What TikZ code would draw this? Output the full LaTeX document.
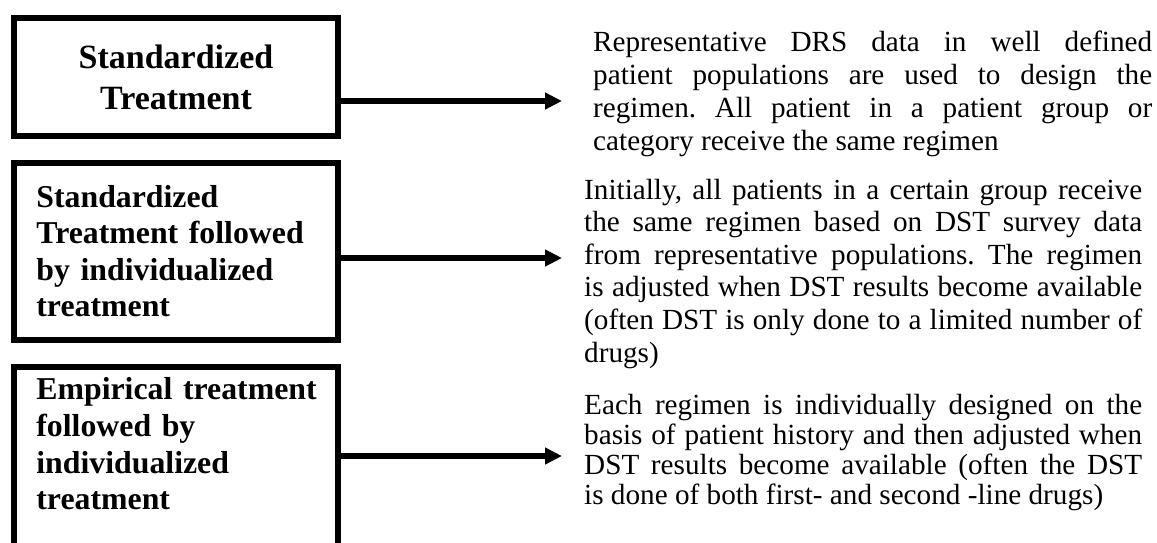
\documentclass[tikz,border=0pt]{standalone}
\usepackage{fontspec}
\setmainfont{Liberation Serif}
\usetikzlibrary{positioning}
\usetikzlibrary{arrows, arrows.meta}

\newcommand{\jline}[1]{\hbox to \hsize{\spaceskip=0pt\xspaceskip=0pt #1}\par}

\begin{document}
\begin{tikzpicture}[x=1pt, y=-1pt,
  kind/.style={draw, line width=5.7pt, outer sep=0pt, inner ysep=0pt,
    anchor=north west, inner xsep=22.55pt, text width=279.2pt, align=left,
    font=\bfseries\fontsize{31.8}{36.6}\selectfont},
  note/.style={inner sep=0pt, anchor=base west, align=justify, text width=558pt,
    font=\fontsize{29.2}{32.6}\selectfont\frenchspacing},
  flow/.style={line width=5.7pt, -{Triangle[length=17pt, width=16pt]}}]

  \useasboundingbox (0,0) rectangle (1157,543);
  \clip (0,0) rectangle (1157,543);

  % treatment kinds
  \node[kind, align=center, inner xsep=15pt, text width=294.3pt,
    text height=50.45pt, text depth=67.85pt,
    font=\bfseries\fontsize{34}{41.7}\selectfont] (std) at (13.85,17.85)
    {Standardized\\Treatment};
  \node[kind, text height=44.15pt, text depth=133.15pt] (stdind) at (13.85,162.85)
    {Standardized\\Treatment followed\\by individualized\\treatment};
  \node[kind, text height=33pt, text depth=180pt] (empind) at (13.85,366.85)
    {\mbox{Empirical treatment}\\followed by\\individualized\\treatment};

  % descriptions
  \node[note, text width=559pt, font=\fontsize{29.2}{33}\selectfont\frenchspacing] (stdtxt) at (593,51.5)
    {\jline{Representative DRS data in well defined}%
     \jline{patient populations are used to design the}%
     \jline{regimen. All patient in a patient group or}%
     category receive the same regimen};
  \node[note] (stdindtxt) at (584,199)
    {\jline{Initially, all patients in a certain group receive}%
     \jline{the same regimen based on DST survey data}%
     \jline{from representative populations. The regimen}%
     \jline{is adjusted when DST results become available}%
     \jline{(often DST is only done to a limited number of}%
     drugs)};
  \node[note, font=\fontsize{29.2}{30}\selectfont\frenchspacing] (empindtxt) at (584,414)
    {\jline{Each regimen is individually designed on the}%
     \jline{basis of patient history and then adjusted when}%
     \jline{DST results become available (often the DST}%
     is done of both first- and second -line drugs)};

  \coordinate (tip1) at (562,101);
  \coordinate (tip2) at (562,258);
  \coordinate (tip3) at (562,456);

  \draw[flow] (std.east |- tip1) -- (tip1);
  \draw[flow] (stdind.east |- tip2) -- (tip2);
  \draw[flow] (empind.east |- tip3) -- (tip3);
\end{tikzpicture}
\end{document}
